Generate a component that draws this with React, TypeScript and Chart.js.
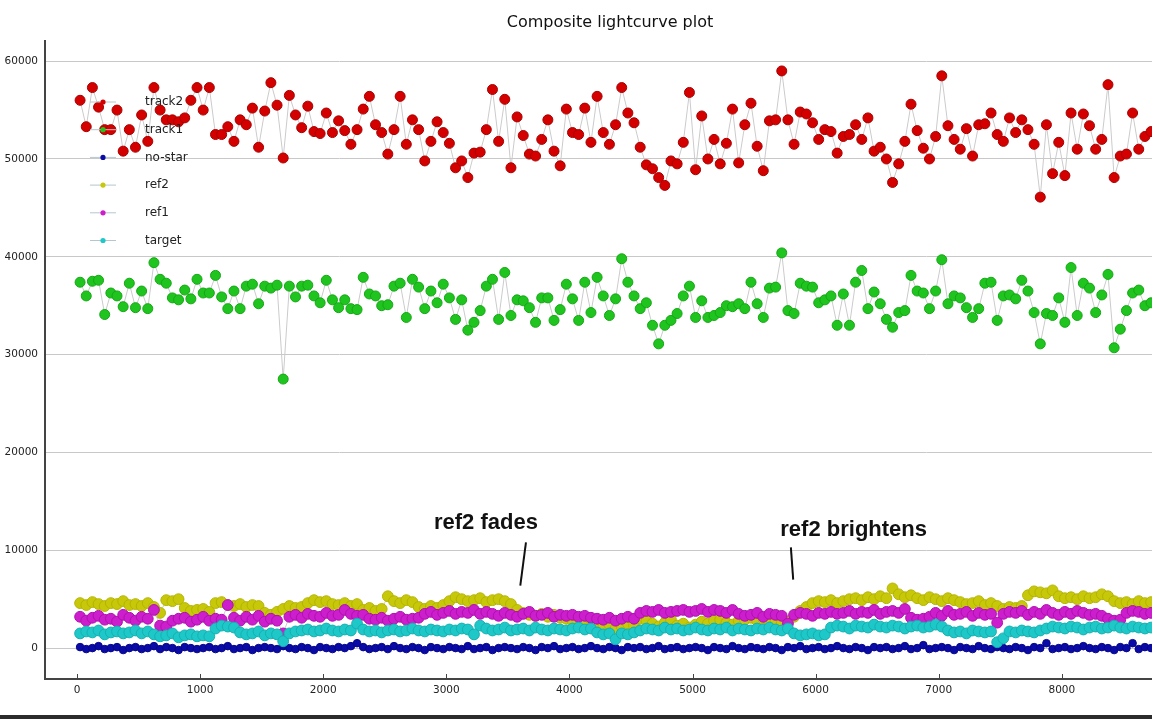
import { useEffect, useRef } from "react";
import { Chart, registerables } from "chart.js";

Chart.register(...registerables);

// ---- data ----
const FIRST_FRAME = 25;
const FRAME_STEP = 50;

const track2 = [
  56000, 53300, 57300, 55300, 53000, 53000, 55000, 50800, 53000, 51200,
  54500, 51800, 57300, 55000, 54000, 54000, 53800, 54200, 56000, 57300,
  55000, 57300, 52500, 52500, 53300, 51800, 54000, 53500, 55200, 51200,
  54900, 57800, 55500, 50100, 56500, 54500, 53200, 55400, 52800, 52600,
  54700, 52700, 53900, 52900, 51500, 53000, 55100, 56400, 53500, 52700,
  50500, 53000, 56400, 51500, 54000, 53000,
  49800, 51800, 53800, 52700, 51600, 49100, 49800, 48100, 50600, 50700,
  53000, 57100, 51800, 56100, 49100, 54300, 52400, 50500, 50300, 52000,
  54000, 50800, 49300, 55100, 52700, 52500, 55200, 51700, 56400, 52700,
  51500, 53500, 57300, 54700, 53700, 51200, 49400, 49000, 48100, 47300,
  49800, 49500, 51700, 56800, 48900, 54400, 50000, 52000, 49500, 51600,
  55100, 49600, 53500, 55700, 51300, 48800, 53900, 54000, 59000, 54000,
  51500, 54800, 54600, 53700, 52000, 53000, 52800, 50600, 52300, 52500,
  53500, 52000, 54200, 50800, 51200, 50000, 47600, 49500, 51800, 55600,
  52900, 51100, 50000, 52300, 58500, 53400, 52000, 51000, 53100, 50300,
  53500, 53600, 54700, 52500, 51800, 54200, 52700, 54000, 53000, 51500,
  46100, 53500, 48500, 51700, 48300, 54700, 51000, 54600, 53400, 51000,
  52000, 57600, 48100, 50300, 50500, 54700, 51000, 52300, 52800,
];

const track1 = [
  37400, 36000, 37500, 37600, 34100, 36300, 36000, 34900, 37300, 34800,
  36500, 34700, 39400, 37700, 37300, 35800, 35600, 36600, 35700, 37700,
  36300, 36300, 38100, 35900, 34700, 36500, 34700, 37000, 37200, 35200,
  37000, 36800, 37100, 27500, 37000, 35900, 37000, 37100, 36000, 35300,
  37600, 35600, 34800, 35600, 34700, 34600, 37900, 36200, 36000, 35000,
  35100, 37000, 37300, 33800, 37700, 36900,
  34700, 36500, 35300, 37200, 35800, 33600, 35600, 32500, 33300, 34500,
  37000, 37700, 33600, 38400, 34000, 35600, 35500, 34800, 33300, 35800,
  35800, 33500, 34600, 37200, 35700, 33500, 37400, 34300, 37900, 36000,
  34000, 35700, 39800, 37400, 36000, 34700, 35300, 33000, 31100, 33000,
  33500, 34200, 36000, 37000, 33800, 35500, 33800, 34000, 34300, 35000,
  34900, 35200, 34700, 37400, 35200, 33800, 36800, 36900, 40400, 34500,
  34200, 37300, 37000, 36900, 35300, 35600, 36000, 33000, 36200, 33000,
  37400, 38600, 34700, 36400, 35200, 33600, 32800, 34300, 34500, 38100,
  36500, 36300, 34700, 36500, 39700, 35200, 36000, 35800, 34800, 33800,
  34700, 37300, 37400, 33500, 36000, 36100, 35700, 37600, 36500, 34300,
  31100, 34200, 34000, 35800, 33300, 38900, 34000, 37300, 36800, 34300,
  36100, 38200, 30700, 32600, 34500, 36300, 36600, 35000, 35300,
];

const noStar = [
  100, -100, 0, 200, -100, 0, 100, -200, 0, 100,
  -100, 0, 200, -100, 100, 0, -200, 100, 0, -100,
  0, 100, -100, 0, 200, -100, 0, 100, -200, 0,
  100, 0, -100, 200, 0, -100, 100, 0, -200, 100,
  0, -100, 100, 0, 200, 500, 100, -100, 0, 100,
  -100, 200, 0, -100, 100, 0, -200, 100, 0, -100,
  100, 0, -100, 200, -100, 0, 100, -200, 0, 100,
  0, -100, 100, 0, -200, 100, 0, 200, -100, 0,
  100, -100, 0, 200, 0, -100, 100, 0, -200, 100,
  0, 100, -100, 0, 200, -100, 0, 100, -100, 0,
  100, 0, -200, 100, 0, -100, 200, 0, -100, 100,
  0, -100, 100, 0, -200, 100, 0, 200, -100, 0,
  100, -100, 0, 200, 0, -100, 100, 0, -200, 100,
  0, 100, -100, 0, 200, -100, 0, 300, -100, 0,
  100, 0, -200, 100, 0, -100, 200, 0, -100, 100,
  0, -100, 100, 0, -200, 100, 0, 500, -100, 0,
  100, -100, 0, 200, 0, -100, 100, 0, -200, 100,
  0, 500, -100, 100, 0,
];

const ref2 = [
  4600, 4400, 4700, 4500, 4300, 4600, 4500, 4800, 4400, 4500, 4300, 4600,
  4200, 3600,
  4900, 4800, 5000,
  4100, 3800, 3900, 4000, 3700,
  4600, 4700,
  4400, 4300, 4500, 4200, 4400, 4300,
  3600, 3400, 3700,
  4000, 4300, 4100, 4200,
  4600, 4900, 4700, 4800,
  4500, 4400, 4600, 4300, 4500,
  3900, 4100, 3800, 4000,
  5300,
  4800, 4600, 4900, 4700,
  4200, 4000, 4300, 4100, 4400,
  4800, 5200,
  5000, 4800, 4900, 5100, 4700, 4900, 5000, 4800,
  4500, 3900, 3600,
  3400, 3300, 3500, 3200, 3400, 3100,
  3000, 2800, 3100, 2700, 2900,
  2300, 2100, 2400, 2000, 2200, 2500, 2300,
  3000, 2800,
  2500, 2200, 2600, 2900, 2300, 2500, 2100, 2400,
  2700, 2500, 2800, 2900, 2600, 2400, 2800,
  2900, 3100, 2800, 3000,
  2600, 2800, 2500, 2700,
  3200, 3800, 4200,
  4600, 4800, 4700, 4900, 4600, 4800,
  5000, 5100, 4900, 5200, 5000, 5300, 5100,
  6100,
  5500, 5200, 5400,
  5100, 4900, 5200, 5000, 4800, 5100, 4900,
  4700, 4500, 4600, 4800, 4400, 4600,
  4300, 4000, 4200, 4100, 4300,
  5400, 5800, 5700, 5600, 5900,
  5300, 5100, 5200, 5000, 5300, 5100, 5200,
  5500, 5300,
  4800, 4600, 4700, 4500, 4800, 4600, 4700,
];

const ref1 = [
  3200, 2800, 3100, 3300, 2900, 3000, 2700, 3400, 3100, 2800, 3200, 3000,
  3900, 2300,
  2200,
  2800, 3000, 3100, 2700, 2900, 3200, 2800, 3000, 2900,
  4400,
  3100, 2800, 3200, 2900, 3300, 2700, 3000, 2800,
  1500,
  3200, 3400, 3100, 3500, 3300, 3200, 3600, 3300, 3400,
  3900,
  3500, 3300, 3400,
  3000, 2900, 3100, 2800, 3000, 3200, 2900, 3000, 3100,
  3500, 3700, 3400, 3600, 3800, 3500, 3700, 3600, 3900, 3500, 3700,
  3500, 3300, 3600, 3400, 3200, 3500, 3700, 3300, 3400, 3600, 3200, 3400, 3300,
  3400, 3200, 3300, 3100,
  3000, 2900, 3100, 2800, 3000, 3200, 3000,
  3600, 3800, 3700, 3900, 3600, 3700, 3800,
  3900, 3700, 3800, 4000, 3700, 3900, 3800, 3600, 3900,
  3500, 3300, 3400, 3600, 3200, 3500, 3400, 3300,
  2500,
  3400, 3600, 3500, 3300, 3600, 3500,
  3700, 3500, 3600, 3800, 3500, 3700, 3600, 3900, 3500, 3700, 3800, 3600, 4000,
  3100, 2900, 3000, 3200,
  3600, 3300, 3800, 3400, 3500, 3700, 3300, 3600, 3400, 3500,
  2600,
  3500, 3700, 3600, 3800, 3400, 3700, 3500, 3900, 3600, 3400, 3700, 3500, 3800, 3600, 3400, 3500, 3300,
  3000, 2800, 2900,
  3600, 3800, 3700, 3500, 3600,
];

const target = [
  1500, 1700, 1600, 1800, 1400, 1600, 1700, 1500, 1600, 1800, 1500, 1700,
  1400, 1200, 1300, 1500, 1100, 1300, 1400, 1200, 1300, 1200,
  2000, 2300, 2200, 2100,
  1600, 1400, 1500, 1700, 1300, 1500, 1400,
  700,
  1500, 1700, 1800, 1900, 1700, 1800, 2000, 1800, 1700, 1900, 1800,
  2500,
  1900, 1700, 1800, 1600, 1800, 1900, 1700, 1800, 2000, 1800, 1700, 1900, 1800, 1700, 1900, 1800, 2000, 1900,
  1400, 2300,
  2000, 1800, 1900, 2100, 1800, 1900, 2000, 1800, 2100, 1900, 1800, 2000, 1900, 1800,
  2000, 2100, 1900, 2000,
  1600, 1400, 1500, 900, 1500, 1400, 1600,
  1800, 2000, 1900, 1800, 2100, 1900, 2000, 1800, 1900, 2100, 1900, 1800, 2000,
  1900, 2100, 1800, 2000, 1900, 1800, 2000, 1900, 2100, 1900, 1800, 2000,
  1500, 1300, 1400, 1500, 1300, 1400,
  2100, 2300, 2200, 2000, 2300, 2200, 2100, 2400, 2200, 2100, 2300, 2200, 2000, 2200, 2300, 2100, 2200, 2400, 2200,
  1800, 1600, 1700, 1500, 1800, 1700, 1600, 1700,
  600, 1000,
  1700, 1600, 1800, 1700, 1600, 1800,
  2000, 2200, 2100, 2000, 2200, 2100, 1900, 2100, 2200, 2000, 2100, 2300, 2100, 2000, 2200, 2100, 2000, 2100,
];

const seriesNames = ["track2", "track1", "no-star", "ref2", "ref1", "target"];
const seriesValues = [track2, track1, noStar, ref2, ref1, target];
const seriesFill = ["#d40000", "#1fc41f", "#0a0aa6", "#c8c80a", "#cc1ecc", "#1ec8c8"];
const seriesEdge = ["#a80000", "#14a814", "#06068a", "#b4b400", "#b010b0", "#14b0b0"];
const seriesRadius = [5, 5, 3.8, 5.4, 5.4, 5.4];
// later series in the legend are painted on top
const seriesOrder = [6, 5, 4, 3, 2, 1];

const xTicks = [0, 1000, 2000, 3000, 4000, 5000, 6000, 7000, 8000, 9000];
const yTicks = [0, 10000, 20000, 30000, 40000, 50000, 60000];

const annotationText = ["ref2 fades", "ref2 brightens"];
const annotationTextAt = [
  [3322, 12200],
  [6309, 11490],
];
const annotationLine = [
  [3647, 10806, 3601, 6388],
  [5799, 10296, 5818, 7000],
];

const frames = track2.map((_, i) => FIRST_FRAME + i * FRAME_STEP);

const legendPlugin = {
  id: "insideLegend",
  afterDraw(chart: any) {
    const ctx = chart.ctx;
    ctx.save();
    chart.data.datasets.forEach((ds: any, i: number) => {
      const y = 102 + i * 27.7;
      ctx.strokeStyle = "#b4c6ce";
      ctx.lineWidth = 1;
      ctx.beginPath();
      ctx.moveTo(90, y);
      ctx.lineTo(116, y);
      ctx.stroke();
      ctx.fillStyle = ds.pointBackgroundColor;
      ctx.beginPath();
      ctx.arc(103, y, 2.6, 0, Math.PI * 2);
      ctx.fill();
      ctx.fillStyle = "#222";
      ctx.font = "12px 'DejaVu Sans'";
      ctx.textBaseline = "middle";
      ctx.textAlign = "left";
      ctx.fillText(ds.label, 145, y);
    });
    ctx.restore();
  },
};

const annotationPlugin = {
  id: "annotations",
  afterDraw(chart: any) {
    const ctx = chart.ctx;
    const xs = chart.scales.x;
    const ys = chart.scales.y;
    ctx.save();
    ctx.fillStyle = "#111";
    ctx.strokeStyle = "#111";
    ctx.lineWidth = 2;
    ctx.font = "bold 22px 'Liberation Sans', Arial, sans-serif";
    ctx.textAlign = "center";
    ctx.textBaseline = "alphabetic";
    annotationText.forEach((t, i) => {
      const [tx, ty] = annotationTextAt[i];
      ctx.fillText(t, xs.getPixelForValue(tx), ys.getPixelForValue(ty));
      const [x1, y1, x2, y2] = annotationLine[i];
      ctx.beginPath();
      ctx.moveTo(xs.getPixelForValue(x1), ys.getPixelForValue(y1));
      ctx.lineTo(xs.getPixelForValue(x2), ys.getPixelForValue(y2));
      ctx.stroke();
    });
    // inward x tick marks
    ctx.strokeStyle = "#444";
    ctx.lineWidth = 1;
    const bottom = chart.chartArea.bottom;
    xs.ticks.forEach((tk: any) => {
      const px = Math.round(xs.getPixelForValue(tk.value)) + 0.5;
      ctx.beginPath();
      ctx.moveTo(px, bottom);
      ctx.lineTo(px, bottom - 5);
      ctx.stroke();
    });
    ctx.restore();
  },
};

export default function App() {
  const canvasRef = useRef<HTMLCanvasElement | null>(null);

  useEffect(() => {
    if (!canvasRef.current) return;
    const datasets = seriesNames.map((name, s) => ({
      label: name,
      data: seriesValues[s].map((v, i) => ({ x: frames[i], y: v })),
      order: seriesOrder[s],
      borderColor: "#cbcbcb",
      borderWidth: 1,
      pointRadius: seriesRadius[s],
      pointBorderWidth: 1,
      pointBackgroundColor: seriesFill[s],
      pointBorderColor: seriesEdge[s],
      tension: 0,
      fill: false,
    }));
    const chart = new Chart(canvasRef.current, {
      type: "line",
      data: { datasets },
      plugins: [legendPlugin, annotationPlugin],
      options: {
        animation: false,
        responsive: false,
        maintainAspectRatio: false,
        layout: { padding: { left: 0, right: 10, top: 0, bottom: 0 } },
        plugins: {
          legend: { display: false },
          tooltip: { enabled: false },
          title: {
            display: true,
            text: "Composite lightcurve plot",
            color: "#111",
            font: { family: "'DejaVu Sans'", size: 16, weight: "normal" },
            padding: { top: 13, bottom: 9 },
          },
        },
        scales: {
          x: {
            type: "linear",
            min: -260,
            max: 9285,
            afterBuildTicks: (scale: any) => {
              scale.ticks = xTicks.map((v) => ({ value: v }));
            },
            afterFit: (scale: any) => {
              scale.height = 40;
            },
            grid: { display: false, drawTicks: false },
            border: { display: true, color: "#444", width: 2 },
            ticks: {
              color: "#222",
              padding: 5,
              maxRotation: 0,
              font: { family: "'DejaVu Sans'", size: 10.5 },
              callback: (v: any) => String(v),
            },
          },
          y: {
            type: "linear",
            min: -3160,
            max: 62040,
            afterBuildTicks: (scale: any) => {
              scale.ticks = yTicks.map((v) => ({ value: v }));
            },
            afterFit: (scale: any) => {
              scale.width = 45;
            },
            grid: { color: "#c8c8c8", lineWidth: 1, drawTicks: false },
            border: { display: true, color: "#444", width: 2 },
            ticks: {
              color: "#222",
              padding: 7,
              font: { family: "'DejaVu Sans'", size: 10.5 },
              callback: (v: any) => String(v),
            },
          },
        },
      },
    } as any);
    return () => chart.destroy();
  }, []);

  return (
    <div
      style={{
        position: "fixed",
        left: 0,
        top: 0,
        width: 1152,
        height: 719,
        overflow: "hidden",
        background: "#fff",
      }}
    >
      <canvas
        ref={canvasRef}
        width={1230}
        height={719}
        style={{ width: 1230, height: 719, display: "block" }}
      />
      <div
        style={{
          position: "absolute",
          left: 0,
          top: 715,
          width: 1152,
          height: 4,
          background: "#2c2c2c",
        }}
      />
    </div>
  );
}
